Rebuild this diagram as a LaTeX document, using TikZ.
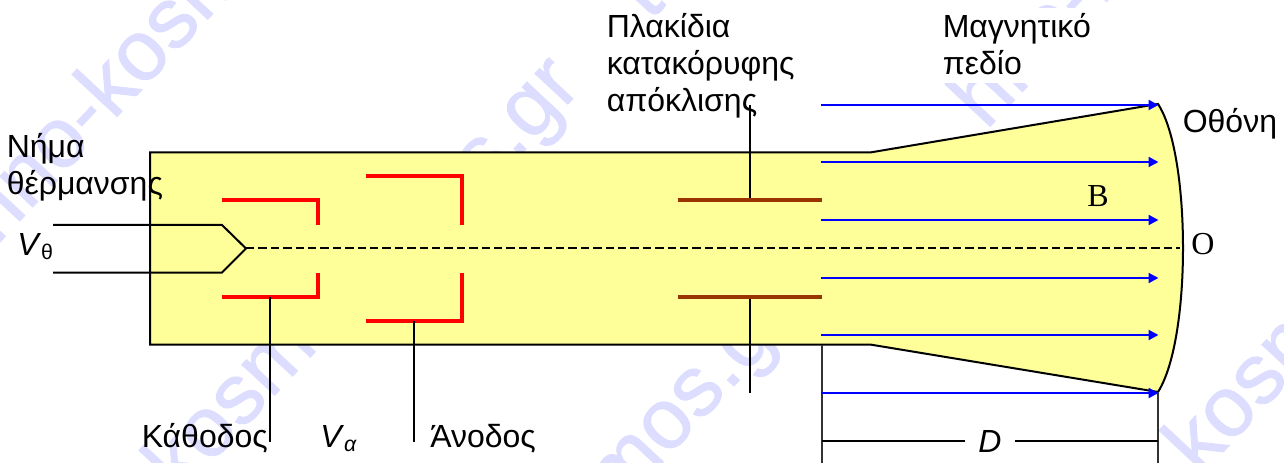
\documentclass[tikz,border=0pt]{standalone}
\usepackage{fontspec}
\setmainfont{Liberation Sans}
\newfontfamily\timesf{Liberation Serif}
\newfontfamily\wmf[FakeBold=1]{Liberation Sans}
\usetikzlibrary{arrows.meta}
\definecolor{tubey}{HTML}{FFFF99}
\definecolor{plate}{HTML}{993300}
\definecolor{wmark}{HTML}{DDDDFF}
\definecolor{fieldb}{HTML}{0000FF}
\definecolor{gun}{HTML}{FF0000}
\tikzset{
  lab/.style={anchor=base west,inner sep=0pt,align=left,font=\fontsize{24}{27.75}\selectfont},
  serifl/.style={anchor=base west,inner sep=0pt,font=\timesf\fontsize{24}{26}\selectfont},
  wm/.style={anchor=base west,inner sep=0pt,rotate=47,text=wmark,font=\wmf\fontsize{64}{64}\selectfont},
  wme/.style={wm,anchor=base east},
  tube/.style={draw=black,line width=1.5pt,fill=tubey,line join=miter},
  thin/.style={draw=black,line width=1.5pt},
  dim/.style={draw=black!80,line width=1.5pt},
  electrode/.style={draw=gun,line width=3pt,line join=miter},
  deflect/.style={draw=plate,line width=3pt},
  fieldline/.style={draw=fieldb,line width=1.6pt,-{Triangle[length=7.5pt,width=7.5pt]}},
}
\begin{document}
\begin{tikzpicture}[x=0.75pt,y=-0.75pt]
\useasboundingbox (0,0) rectangle (1284,463);
\clip (0,0) rectangle (1284,463);
% watermark
\node[wm] (wa) at (113,121) {kosmos.gr};
\node[wme] (wa2) at (113,121) {techno-};
\node[wm] (wb) at (180,497) {kosmos};
\node[wm] (wb3) at (486,192) {s.gr};
\node[wm] (wb4) at (650,22) {t};
\node[wm] (wc) at (528,607) {kosmos.gr};
\node[wm] (wc2) at (986,131) {hno-k};
\node[wm] (wd) at (1200,477) {kosmos.gr};
% label backgrounds
\fill[white] (598,17) rectangle (806,125);
\fill[white] (930,8) rectangle (1106,83);
% tube
\path[tube] (150,152.5) -- (870,152.5) -- (1158,104)
  .. controls (1175,130) and (1183,190) .. (1183,248)
  .. controls (1183,306) and (1175,365) .. (1158,392)
  -- (870,344.5) -- (150,344.5) -- cycle;
% coordinates
\coordinate (f1) at (53,225);
\coordinate (f2) at (222,225);
\coordinate (tip) at (246,248.5);
\coordinate (f3) at (222,272.5);
\coordinate (f4) at (53,272.5);
\coordinate (axis) at (1180,248.5);
\draw[thin,line join=miter] (f1) -- (f2) -- (tip) -- (f3) -- (f4);
\draw[black,line width=1.5pt,dash pattern=on 6.3pt off 3pt] (tip) -- (axis);
% electrodes
\draw[electrode] (222,200.5) -- (318,200.5) -- (318,225);
\draw[electrode] (222,296.5) -- (318,296.5) -- (318,273);
\draw[electrode] (366,176.5) -- (462,176.5) -- (462,225);
\draw[electrode] (366,321) -- (462,321) -- (462,273);
\draw[thin] (270,296.5) -- (270,441.5);
\draw[thin] (414,321) -- (414,441.5);
% plates
\draw[thin] (750,105) -- (750,200.5);
\draw[thin] (750,296.5) -- (750,393);
\draw[deflect] (678,200.5) -- (822,200.5);
\draw[deflect] (678,296.5) -- (822,296.5);
% dimension
\coordinate (da) at (822,345);
\coordinate (db) at (822,463);
\coordinate (dc) at (1158,392);
\coordinate (dd) at (1158,463);
\coordinate (de) at (822,441);
\coordinate (df) at (1158,441);
\draw[dim] (da) -- (db);
\draw[dim] (dc) -- (dd);
\node[inner sep=0pt,minimum width=37.5pt,minimum height=20pt,font=\fontsize{24}{28}\selectfont\itshape] (D) at (990,441) {D};
\draw[thin] (de) -- (D);
\draw[thin] (D) -- (df);
% field
\foreach \y/\n in {105/a,162/b,220/c,278/d,335/e,393/f}{
  \coordinate (bl\n) at (821,\y);
  \coordinate (br\n) at (1158.5,\y);
  \draw[fieldline] (bl\n) -- (br\n);
}
% labels
\node[lab] (nima) at (6.5,195) {Νήμα\\θέρμανσης};
\node[lab] (plak) at (606.5,112) {Πλακίδια\\κατακόρυφης\\απόκλισης};
\node[lab] (magn) at (942.5,75) {Μαγνητικό\\πεδίο};
\node[lab] (othoni) at (1182.5,133) {Οθόνη};
\node[lab] (kath) at (141.5,447) {Κάθοδος};
\node[lab] (anod) at (430,447) {Άνοδος};
\node[lab] (vth) at (17,255.5) {\textit{V}{\fontsize{16}{18}\selectfont\raisebox{-3pt}{θ}}};
\node[lab] (val) at (320,447) {\textit{V}{\fontsize{16}{18}\selectfont\raisebox{-3pt}{\textit{α}}}};
\node[serifl] (bb) at (1087,207) {B};
\node[serifl] (oo) at (1191,255) {O};
\end{tikzpicture}
\end{document}
